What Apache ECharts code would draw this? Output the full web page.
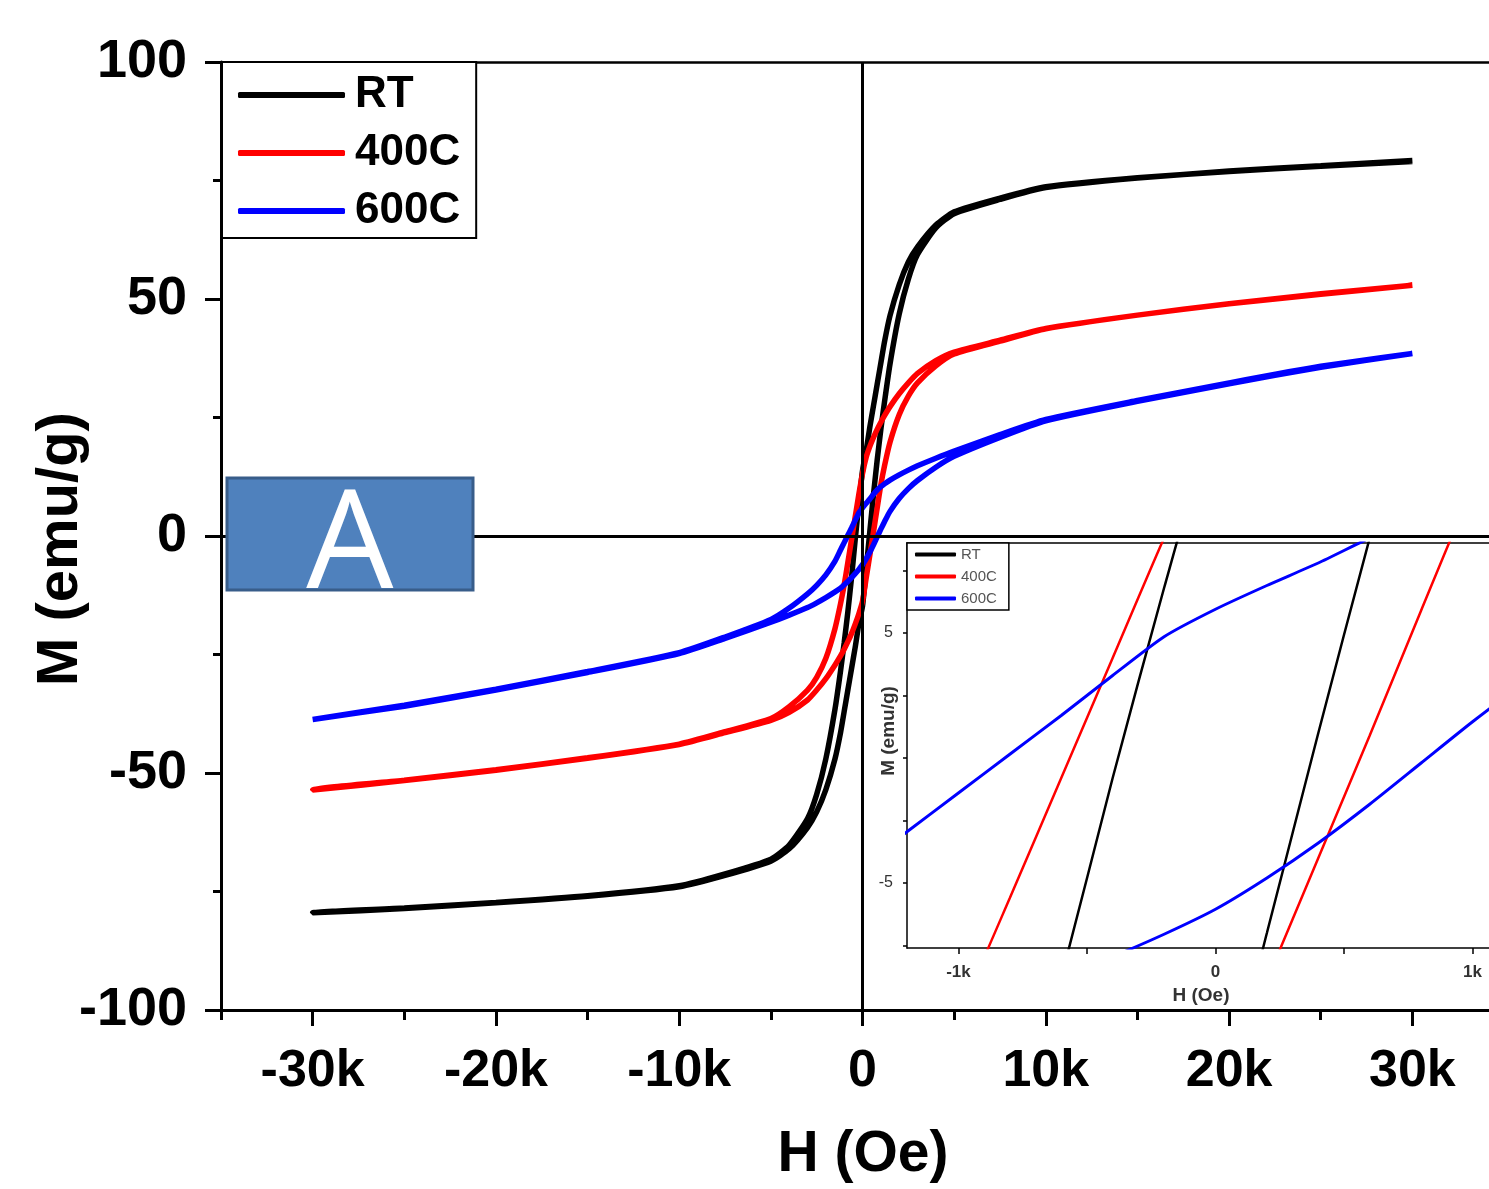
<!DOCTYPE html>
<html>
<head>
<meta charset="utf-8">
<script src="https://cdn.jsdelivr.net/npm/echarts@6/dist/echarts.min.js"></script>
<style>
html,body{margin:0;padding:0;background:#fff;}
#chart{width:1489px;height:1189px;}
</style>
</head>
<body>
<div id="chart"></div>
<script>
// ---- Data (H in Oe, M in emu/g) ----
const SERIES_NAMES = ['RT', '400C', '600C'];
const SERIES_COLORS = ['#000000', '#ff0000', '#0000ff'];

// descending branch field values (+30k -> -30k)
const H_DOWN = [30000, 25000, 20000, 15000, 10000, 7500, 5000, 4000, 3000, 2500, 2000, 1500, 1200, 1000, 800, 600, 400, 200, 0,
  -200, -400, -600, -800, -1000, -1200, -1500, -2000, -2500, -3000, -4000, -5000, -7500, -10000, -15000, -20000, -25000, -30000];
// ascending branch field values (-30k -> +30k)
const H_UP = [-30000, -25000, -20000, -15000, -10000, -7500, -5000, -4000, -3000, -2500, -2000, -1500, -1200, -1000, -800, -600, -400, -200, 0,
  200, 400, 600, 800, 1000, 1200, 1500, 2000, 2500, 3000, 4000, 5000, 7500, 10000, 15000, 20000, 25000, 30000];

const RT_DOWN = [79.0, 78.0, 76.9, 75.6, 73.7, 71.3, 68.4, 65.6, 61.0, 57.8, 53.0, 46.5, 41.0, 36.5, 32.0, 27.5, 23.0, 18.0, 13.8,
  6.8, -0.8, -8.8, -16.0, -22.5, -28.5, -36.5, -47.0, -54.5, -59.6, -65.2, -68.2, -71.3, -73.8, -75.9, -77.3, -78.5, -79.5];
const RT_UP = [-79.6, -78.6, -77.4, -76.0, -74.0, -71.6, -68.6, -66.0, -61.5, -58.2, -53.5, -47.0, -41.5, -37.0, -32.5, -28.0, -23.5, -18.5, -14.8,
  -7.0, 1.0, 8.8, 16.0, 22.5, 28.3, 36.3, 46.8, 54.2, 59.4, 65.0, 68.0, 71.0, 73.5, 75.5, 77.0, 78.1, 79.2];

const C400_DOWN = [52.9, 51.0, 49.0, 46.6, 43.8, 41.3, 38.8, 37.0, 34.3, 32.3, 30.0, 27.3, 25.4, 24.0, 22.5, 20.8, 18.9, 16.6, 13.2,
  8.8, 4.0, -0.8, -5.6, -10.3, -14.3, -19.5, -25.8, -29.8, -32.5, -36.0, -38.5, -41.3, -43.9, -46.8, -49.3, -51.5, -53.6];
const C400_UP = [-53.7, -51.6, -49.4, -46.9, -44.0, -41.5, -38.9, -37.2, -34.6, -32.5, -30.1, -27.2, -25.3, -23.9, -22.3, -20.6, -18.6, -16.4, -13.8,
  -8.9, -4.0, 0.9, 5.9, 10.8, 14.8, 19.8, 25.6, 29.5, 32.3, 35.9, 38.4, 41.1, 43.7, 46.6, 49.0, 51.1, 52.9];

const C600_DOWN = [38.5, 35.8, 32.3, 28.6, 24.6, 21.4, 17.9, 16.4, 14.8, 13.9, 12.9, 11.8, 11.0, 10.4, 9.7, 8.8, 7.8, 6.9, 5.95,
  4.85, 3.3, 1.7, 0.15, -1.4, -2.95, -5.3, -8.2, -10.4, -12.2, -15.2, -17.6, -21.3, -24.6, -28.6, -32.3, -35.7, -38.7];
const C600_UP = [-38.7, -35.9, -32.5, -28.8, -24.8, -21.6, -18.2, -16.7, -15.1, -14.1, -13.0, -11.8, -11.0, -10.3, -9.6, -8.8, -7.95, -7.05, -6.05,
  -4.8, -3.4, -1.85, -0.2, 1.45, 3.0, 5.2, 7.9, 10.0, 11.7, 14.5, 16.8, 20.8, 24.3, 28.4, 32.1, 35.6, 38.5];

// ---- Tick values ----
const X_MAJOR = [-30000, -20000, -10000, 0, 10000, 20000, 30000];
const X_MINOR = [-35000, -25000, -15000, -5000, 5000, 15000, 25000];
const INSET_X_TICKS = [-1000, -500, 0, 500, 1000];
const INSET_X_LABELS = [-1000, 0, 1000];
const INSET_Y_TICKS = [-7.5, -5, -2.5, 0, 2.5, 5, 7.5];
const INSET_Y_LABELS = [-5, 5];

const DOWNS = [RT_DOWN, C400_DOWN, C600_DOWN];
const UPS = [RT_UP, C400_UP, C600_UP];

function loop(i) {
  const pts = [];
  H_DOWN.forEach((h, k) => pts.push([h, DOWNS[i][k]]));
  H_UP.forEach((h, k) => pts.push([h, UPS[i][k]]));
  return pts;
}
const kfmt = v => v === 0 ? '0' : (v / 1000) + 'k';
const FONT = '"Liberation Sans", Arial, sans-serif';

// visible axis windows (the plot runs past the right edge of the picture)
const MAIN_X = [-35000, 34180];
const INSET_X = [-1200, 1064];

const series = [];
SERIES_NAMES.forEach((name, i) => {
  const s = {
    name, type: 'line', xAxisIndex: 0, yAxisIndex: 0, data: loop(i),
    symbol: 'none', showSymbol: false, smooth: 0.2, color: SERIES_COLORS[i],
    lineStyle: { color: SERIES_COLORS[i], width: 5.5 }, z: 2, silent: true
  };
  if (i === 0) {
    s.markLine = {
      silent: true, symbol: ['none', 'none'], label: { show: false },
      lineStyle: { color: '#000', width: 3, type: 'solid' },
      data: [{ xAxis: 0 }, { yAxis: 0 }]
    };
  }
  series.push(s);
});
SERIES_NAMES.forEach((name, i) => {
  const s = {
    name, type: 'line', xAxisIndex: 1, yAxisIndex: 1, data: loop(i),
    symbol: 'none', showSymbol: false, smooth: 0.2, color: SERIES_COLORS[i],
    lineStyle: { color: SERIES_COLORS[i], width: i === 2 ? 3 : 2.5 }, z: 12, silent: true
  };
  if (i === 0) {
    s.markLine = {
      silent: true, symbol: ['none', 'none'], label: { show: false },
      lineStyle: { color: '#000', width: 1.5, type: 'solid' },
      data: [{ xAxis: 0 }, { yAxis: 0 }]
    };
  }
  series.push(s);
});

const chart = echarts.init(document.getElementById('chart'), null, { renderer: 'canvas' });
chart.setOption({
  animation: false,
  backgroundColor: '#ffffff',
  grid: [
    { left: 221, top: 62, right: 0, bottom: 177, show: false },
    { left: 907, top: 543, right: 0, bottom: 241, show: true, borderWidth: 0, backgroundColor: '#ffffff', z: 10 },
    { left: 221, top: 62, right: 0, bottom: 177, show: false }
  ],
  xAxis: [
    {
      gridIndex: 0, type: 'value', min: MAIN_X[0], max: MAIN_X[1],
      axisLine: { show: true, onZero: false, lineStyle: { color: '#000', width: 3 } },
      axisTick: { show: true, inside: false, length: 16, customValues: X_MAJOR, lineStyle: { color: '#000', width: 3 } },
      axisLabel: { customValues: X_MAJOR, formatter: kfmt, fontSize: 52, fontWeight: 'bold', color: '#000', margin: 36, fontFamily: FONT },
      splitLine: { show: false },
      name: 'H (Oe)', nameLocation: 'middle', nameGap: 117, nameMoveOverlap: false,
      nameTextStyle: { fontSize: 57, fontWeight: 'bold', color: '#000', fontFamily: FONT, padding: [0, 0, 0, 16] }
    },
    {
      gridIndex: 1, type: 'value', min: INSET_X[0], max: INSET_X[1], z: 11,
      axisLine: { show: true, onZero: false, lineStyle: { color: '#000', width: 1.5 } },
      axisTick: { show: true, inside: false, length: 6, customValues: INSET_X_TICKS, lineStyle: { color: '#000', width: 1.5 } },
      axisLabel: { customValues: INSET_X_LABELS, formatter: kfmt, fontSize: 17, fontWeight: 'bold', color: '#333', margin: 16, fontFamily: FONT },
      splitLine: { show: false },
      name: 'H (Oe)', nameLocation: 'middle', nameGap: 38, nameMoveOverlap: false,
      nameTextStyle: { fontSize: 19, fontWeight: 'bold', color: '#333', fontFamily: FONT, padding: [0, 0, 0, 6] }
    },
    {
      gridIndex: 2, type: 'value', min: MAIN_X[0], max: MAIN_X[1], position: 'bottom',
      axisLine: { show: false, onZero: false },
      axisTick: { show: true, inside: false, length: 8, customValues: X_MINOR, lineStyle: { color: '#000', width: 3 } },
      axisLabel: { show: false }, splitLine: { show: false }
    },
    {
      gridIndex: 2, type: 'value', min: MAIN_X[0], max: MAIN_X[1], position: 'top',
      axisLine: { show: true, onZero: false, lineStyle: { color: '#000', width: 2.5 } },
      axisTick: { show: false }, axisLabel: { show: false }, splitLine: { show: false }
    },
    {
      gridIndex: 1, type: 'value', min: INSET_X[0], max: INSET_X[1], position: 'top', z: 11,
      axisLine: { show: true, onZero: false, lineStyle: { color: '#000', width: 1.5 } },
      axisTick: { show: false }, axisLabel: { show: false }, splitLine: { show: false }
    }
  ],
  yAxis: [
    {
      gridIndex: 0, type: 'value', min: -100, max: 100, interval: 50,
      axisLine: { show: true, onZero: false, lineStyle: { color: '#000', width: 3 } },
      axisTick: { show: true, inside: false, length: 16, lineStyle: { color: '#000', width: 3 } },
      minorTick: { show: true, splitNumber: 2, length: 8, lineStyle: { color: '#000', width: 3 } },
      axisLabel: { fontSize: 54, fontWeight: 'bold', color: '#000', margin: 34, fontFamily: FONT },
      splitLine: { show: false }, minorSplitLine: { show: false },
      name: 'M (emu/g)', nameLocation: 'middle', nameGap: 131, nameRotate: 90, nameMoveOverlap: false,
      nameTextStyle: { fontSize: 58, fontWeight: 'bold', color: '#000', fontFamily: FONT, padding: [0, 26, 0, 0] }
    },
    {
      gridIndex: 1, type: 'value', min: -7.6, max: 8.6, z: 11,
      axisLine: { show: true, onZero: false, lineStyle: { color: '#000', width: 1.5 } },
      axisTick: { show: true, inside: false, length: 4, customValues: INSET_Y_TICKS, lineStyle: { color: '#000', width: 1.5 } },
      axisLabel: { customValues: INSET_Y_LABELS, fontSize: 16, color: '#333', margin: 14, fontFamily: FONT },
      splitLine: { show: false },
      name: 'M (emu/g)', nameLocation: 'middle', nameGap: 9, nameRotate: 90, nameMoveOverlap: false,
      nameTextStyle: { fontSize: 19, fontWeight: 'bold', color: '#333', fontFamily: FONT, padding: [0, 0, 0, 29] }
    },
    { gridIndex: 2, type: 'value', min: -100, max: 100, show: false }
  ],
  legend: [
    {
      left: 222, top: 62, orient: 'vertical', data: SERIES_NAMES, icon: 'roundRect',
      itemWidth: 107, itemHeight: 6, itemGap: 14, padding: [11, 16, 5, 16],
      backgroundColor: '#ffffff', borderColor: '#000', borderWidth: 2, selectedMode: false, z: 20,
      textStyle: { fontSize: 44, fontWeight: 'bold', color: '#000', fontFamily: FONT, padding: [0, 0, 0, 5] }
    },
    {
      left: 907, top: 543, orient: 'vertical', data: SERIES_NAMES, icon: 'roundRect',
      itemWidth: 41, itemHeight: 4, itemGap: 7, padding: [4, 12, 4, 8],
      backgroundColor: '#ffffff', borderColor: '#000', borderWidth: 1.5, selectedMode: false, z: 20,
      textStyle: { fontSize: 15, color: '#555', fontFamily: FONT }
    }
  ],
  graphic: [
    { type: 'rect', shape: { x: 227, y: 478, width: 246, height: 112 }, style: { fill: '#4F81BD', stroke: '#385D8A', lineWidth: 3 }, z: 100 },
    { type: 'text', x: 350, y: 549, style: { text: 'A', fill: '#ffffff', font: '138px "Open Sans", "Liberation Sans", sans-serif', textAlign: 'center', textVerticalAlign: 'middle' }, z: 101 }
  ],
  series
});
</script>
</body>
</html>
